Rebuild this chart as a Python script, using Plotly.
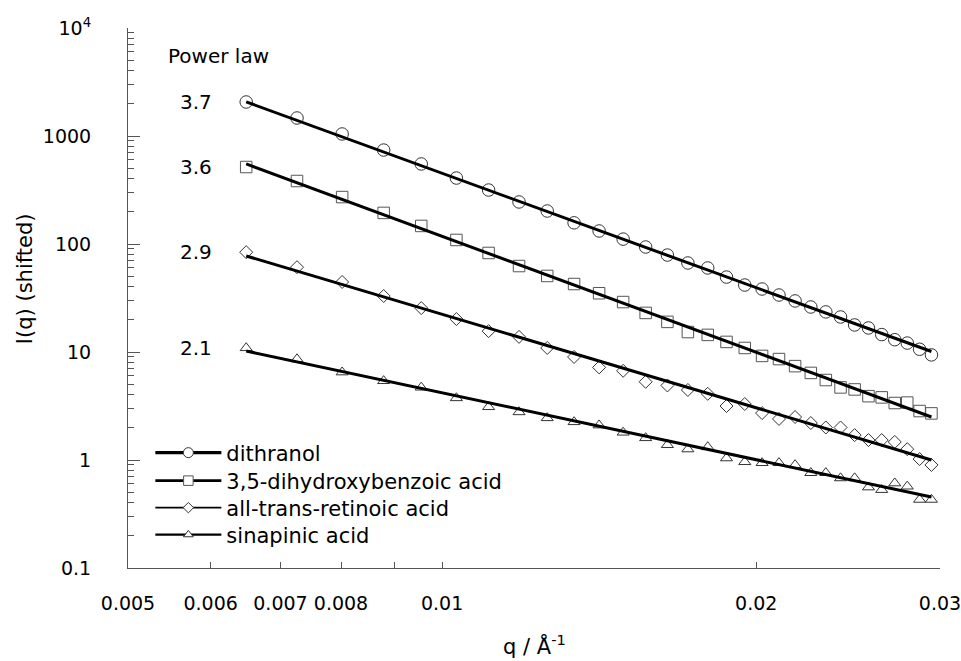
import math
import plotly.graph_objects as go

# ---- data ----
q = [0.00649, 0.00726, 0.00802, 0.00879, 0.00955, 0.01032, 0.01108, 0.01185, 0.01261, 0.01338,
     0.01414, 0.01491, 0.01567, 0.01644, 0.01720, 0.01797, 0.01873, 0.01950, 0.02026, 0.02103,
     0.02179, 0.02256, 0.02332, 0.02409, 0.02485, 0.02562, 0.02638, 0.02715, 0.02791, 0.02868,
     0.02944]
dithranol = [2065, 1468, 1044, 741, 551, 408, 316, 245, 202, 157, 132, 111, 93.8, 79, 66.7, 60,
             49.4, 41.7, 38.3, 33.7, 29.7, 26.1, 23.5, 21.1, 17.8, 16.7, 14.5, 13.0, 12.1, 10.6, 9.4]
dhb = [516, 383, 272, 194, 147, 109, 82.6, 62.5, 50.6, 42.6, 35, 29, 23, 19, 15.3, 14.4, 12.4,
       10.9, 9.2, 8.6, 7.4, 6.4, 5.5, 4.7, 4.5, 3.9, 3.8, 3.37, 3.4, 2.84, 2.7]
retinoic = [84, 61, 44.5, 33, 25.5, 20.2, 15.6, 13.8, 10.9, 9.0, 7.2, 6.7, 5.3, 4.9, 4.45, 4.1,
            3.16, 3.3, 2.72, 2.4, 2.5, 2.2, 2.0, 2.0, 1.7, 1.53, 1.53, 1.47, 1.26, 1.02, 0.9]
sinapinic = [10.9, 8.6, 6.5, 5.4, 4.7, 3.75, 3.1, 2.78, 2.45, 2.25, 2.1, 1.8, 1.6, 1.38, 1.26,
             1.32, 1.04, 0.96, 0.94, 0.94, 0.9, 0.76, 0.76, 0.68, 0.68, 0.56, 0.53, 0.61, 0.57,
             0.43, 0.43]

fit_q = [0.00649, 0.02944]
fit_dithranol = [2070, 10.1]
fit_dhb = [551, 2.5]
fit_retinoic = [77.5, 1.0]
fit_sinapinic = [10.2, 0.454]

names = ["dithranol", "3,5-dihydroxybenzoic acid", "all-trans-retinoic acid", "sinapinic acid"]
power_law = ["3.7", "3.6", "2.9", "2.1"]

x_tickvals = [0.005, 0.006, 0.007, 0.008, 0.01, 0.02, 0.03]
x_ticktext = ["0.005", "0.006", "0.007", "0.008", "0.01", "0.02", "0.03"]
x_minor = [0.009]
y_tickvals = [0.1, 1, 10, 100, 1000, 10000]
y_ticktext = ["0.1", "1", "10", "100", "1000", "10<sup>4</sup>"]
y_minor = [m * 10 ** e for e in range(-1, 4) for m in range(2, 10)]

# ---- styling ----
FONT = "DejaVu Sans"
series = [dithranol, dhb, retinoic, sinapinic]
fits = [fit_dithranol, fit_dhb, fit_retinoic, fit_sinapinic]
symbols = ["circle-open", "square-open", "diamond-open", "triangle-up-open"]
msizes = [12.5, 11.5, 10, 10.5]
mcolors = ["#333333", "#555555", "#333333", "#333333"]
legend_widths = [3.2, 2.6, 1.8, 2.4]
legend_msizes = [10, 9.5, 8, 8.5]
legend_ids = ["legend", "legend2", "legend3", "legend4"]
legend_y_px = [453, 481, 508, 535]   # page-pixel centres of the legend rows

PLOT_TOP, PLOT_BOTTOM = 28, 568

fig = go.Figure()

for ys, sym, ms, mc in zip(series, symbols, msizes, mcolors):
    fig.add_trace(go.Scatter(x=q, y=ys, mode="markers", showlegend=False, hoverinfo="skip",
                             marker=dict(symbol=sym, size=ms, color=mc, line=dict(width=1, color=mc))))

for fy in fits:
    fig.add_trace(go.Scatter(x=fit_q, y=fy, mode="lines", showlegend=False, hoverinfo="skip",
                             line=dict(color="black", width=3)))

for name, sym, lw, ms, mc, lid in zip(names, symbols, legend_widths, legend_msizes, mcolors, legend_ids):
    fig.add_trace(go.Scatter(x=[None], y=[None], mode="lines+markers", name=name, legend=lid,
                             line=dict(color="black", width=lw),
                             marker=dict(symbol=sym.replace("-open", ""), size=ms, color="white",
                                         line=dict(width=1, color=mc))))

annotations = []
for lbl, ys in zip(power_law, series):
    annotations.append(dict(x=math.log10(0.00605), y=math.log10(ys[0]), xref="x", yref="y",
                            xanchor="right", yanchor="middle", text=lbl, showarrow=False,
                            font=dict(family=FONT, size=20, color="black")))
annotations.append(dict(x=math.log10(0.00544), y=math.log10(5500), xref="x", yref="y",
                        xanchor="left", yanchor="middle", text="Power law", showarrow=False,
                        font=dict(family=FONT, size=20, color="black")))
annotations.append(dict(x=-0.1268, y=0.535, xref="paper", yref="paper", xanchor="center",
                        yanchor="middle", text="I(q) (shifted)", textangle=-90, showarrow=False,
                        font=dict(family=FONT, size=21, color="black")))
annotations.append(dict(x=0.5, y=-0.143, xref="paper", yref="paper", xanchor="center",
                        yanchor="middle", text="q / Å<sup>-1</sup>", showarrow=False,
                        font=dict(family=FONT, size=21, color="black")))

legends = {}
for lid, ypx in zip(legend_ids, legend_y_px):
    legends[lid] = dict(x=0.03 - 2 / 812, y=(PLOT_BOTTOM - ypx) / (PLOT_BOTTOM - PLOT_TOP),
                        xanchor="left", yanchor="middle", bgcolor="rgba(0,0,0,0)",
                        font=dict(family=FONT, size=21, color="black"), itemwidth=66)

fig.update_layout(
    width=961, height=661,
    margin=dict(l=128, r=21, t=PLOT_TOP, b=661 - PLOT_BOTTOM, autoexpand=False),
    paper_bgcolor="white", plot_bgcolor="white",
    font=dict(family=FONT, size=19, color="black"),
    annotations=annotations,
    shapes=[dict(type="line", xref="x", yref="paper", x0=math.log10(0.01), x1=math.log10(0.01),
                 ysizemode="pixel", yanchor=0, y0=0, y1=11, line=dict(color="#555555", width=1))],
    showlegend=True,
    **legends,
)

fig.update_xaxes(type="log", range=[math.log10(0.005), math.log10(0.03) + 1e-5], showgrid=False,
                 zeroline=False, showline=True, linecolor="#555555", linewidth=1, automargin=False,
                 tickmode="array", tickvals=x_tickvals, ticktext=x_ticktext,
                 ticks="inside", ticklen=6, tickcolor="#555555", ticklabelstandoff=18,
                 ticklabeloverflow="allow",
                 tickfont=dict(family=FONT, size=19, color="black"),
                 minor=dict(tickmode="array", tickvals=x_minor, ticks="inside", ticklen=6,
                            tickcolor="#555555"))
fig.update_yaxes(type="log", range=[-1, 4], showgrid=False, zeroline=False,
                 showline=True, linecolor="#555555", linewidth=1, automargin=False,
                 tickmode="array", tickvals=y_tickvals, ticktext=y_ticktext,
                 ticks="inside", ticklen=12, tickcolor="#555555", ticklabelstandoff=32,
                 tickfont=dict(family=FONT, size=19, color="black"),
                 minor=dict(tickmode="array", tickvals=y_minor, ticks="inside", ticklen=6,
                            tickcolor="#555555"))

fig.write_html("out.html", config={"displayModeBar": False},
               post_script="document.body.style.margin='0px';document.body.style.overflow='hidden';")
